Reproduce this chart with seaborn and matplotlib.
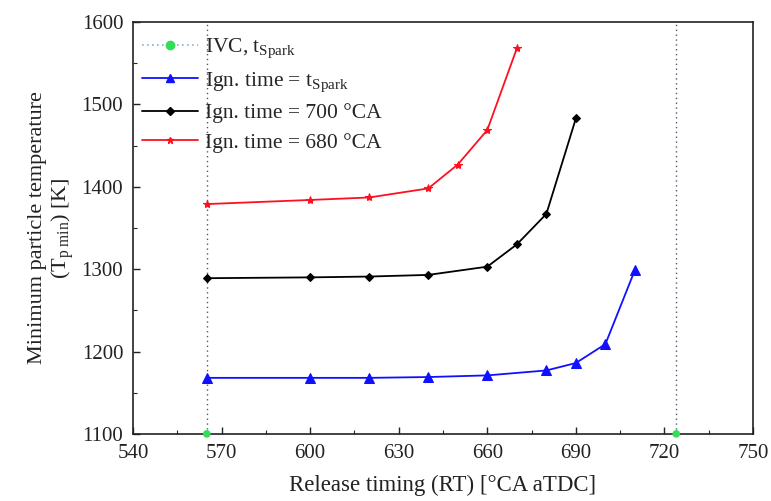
import matplotlib
matplotlib.use("Agg")
import matplotlib.pyplot as plt
import seaborn as sns
import pandas as pd
from matplotlib.lines import Line2D
from matplotlib.ticker import MultipleLocator

# ---- data ----
ivc_x = [565, 724]
ivc_y = [1100, 1100]

blue_x = [565, 600, 620, 640, 660, 680, 690, 700, 710]
blue_y = [1168, 1168, 1168, 1169, 1171, 1177, 1186, 1209, 1299]

black_x = [565, 600, 620, 640, 660, 670, 680, 690]
black_y = [1289, 1290, 1291, 1293, 1303, 1330, 1367, 1483]

red_x = [565, 600, 620, 640, 650, 660, 670]
red_y = [1379, 1384, 1387, 1398, 1427, 1469, 1568]

labels = ["IVC, t$_{\\mathrm{Spark}}$",
          "Ign. time = t$_{\\mathrm{Spark}}$",
          "Ign. time = 700 \u00b0CA",
          "Ign. time = 680 \u00b0CA"]

sns.set_theme(style="ticks")
plt.rcParams["font.family"] = ["Liberation Serif", "DejaVu Serif"]
plt.rcParams["mathtext.fontset"] = "custom"
plt.rcParams["mathtext.rm"] = "Liberation Serif"
plt.rcParams["mathtext.it"] = "Liberation Serif:italic"

fig = plt.figure(figsize=(7.71, 5.01), dpi=100)
ax = fig.add_axes([0.1725, 0.134, 0.8042, 0.822])

# IVC dotted lines and markers
for xv in ivc_x:
    ax.axvline(xv, color="#4a5a70", linestyle=(0, (1, 2.5)), linewidth=1.0, zorder=1)
sns.scatterplot(x=ivc_x, y=ivc_y, ax=ax, color="#33dd55", s=30, marker="o",
                edgecolor="none", zorder=5, clip_on=False, legend=False)

df_b = pd.DataFrame({"x": blue_x, "y": blue_y})
df_k = pd.DataFrame({"x": black_x, "y": black_y})
df_r = pd.DataFrame({"x": red_x, "y": red_y})

sns.lineplot(data=df_b, x="x", y="y", ax=ax, color="#1010ff", marker="^",
             markersize=6.5, markeredgecolor="#1010ff", linewidth=1.3, legend=False)
sns.lineplot(data=df_k, x="x", y="y", ax=ax, color="black", marker="D",
             markersize=4.5, markeredgecolor="black", linewidth=1.3, legend=False)
sns.lineplot(data=df_r, x="x", y="y", ax=ax, color="#ff1020", marker="*",
             markersize=6, markeredgecolor="#ff1020", linewidth=1.3, legend=False)

ax.set_xlim(540, 750)
ax.set_ylim(1100, 1600)
ax.xaxis.set_major_locator(MultipleLocator(30))
ax.xaxis.set_minor_locator(MultipleLocator(15))
ax.yaxis.set_major_locator(MultipleLocator(100))
ax.yaxis.set_minor_locator(MultipleLocator(50))
ax.tick_params(which="major", direction="in", length=5, width=1, labelsize=15,
               colors="#222222", pad=7)
ax.tick_params(which="minor", direction="in", length=3, width=0.8)
for s in ax.spines.values():
    s.set_linewidth(1.2)
    s.set_color("#222222")

ax.set_xlabel("Release timing (RT) [\u00b0CA aTDC]", fontsize=16.5, labelpad=9, color="#222222")
ax.set_ylabel("Minimum particle temperature\n(T$_{\\mathrm{p\\ min}}$) [K]", fontsize=16,
              labelpad=4, color="#222222", linespacing=1.15)

handles = [
    Line2D([], [], color="#88b0d0", linestyle=(0, (1, 2)), linewidth=1.2,
           marker="o", markersize=6, markerfacecolor="#33dd55", markeredgecolor="#33dd55"),
    Line2D([], [], color="#1010ff", marker="^", markersize=6, linewidth=1.3),
    Line2D([], [], color="black", marker="D", markersize=4, linewidth=1.3),
    Line2D([], [], color="#ff1020", marker="*", markersize=5, linewidth=1.3),
]
ax.legend(handles, labels, loc="upper left", frameon=False, fontsize=15.5,
          handlelength=2.6, borderaxespad=0.0, bbox_to_anchor=(0.0, 0.985),
          labelspacing=0.45, handletextpad=0.35, borderpad=0.4)

fig.savefig("out.png", dpi=100)
